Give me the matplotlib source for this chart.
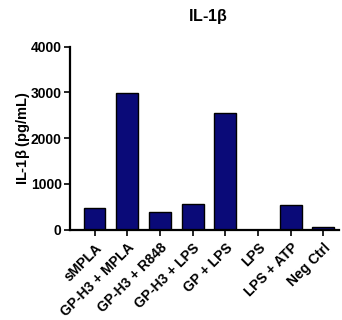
import matplotlib
matplotlib.use("Agg")
import matplotlib.pyplot as plt

categories = ["sMPLA", "GP-H3 + MPLA", "GP-H3 + R848", "GP-H3 + LPS",
              "GP + LPS", "LPS", "LPS + ATP", "Neg Ctrl"]
values = [480, 2985, 390, 560, 2550, 0, 540, 45]
yticks = [0, 1000, 2000, 3000, 4000]

plt.rcParams['font.family'] = ['Liberation Sans', 'DejaVu Sans']

fig = plt.figure(figsize=(3.42, 3.20), dpi=100)
ax = fig.add_axes([70/342, 1-229.5/320, (339-70)/342, (229.5-46.7)/320])

x = list(range(len(categories)))
ax.bar(x, values, width=0.67, color="#0a0a78", edgecolor="black", linewidth=1.0)

ax.set_xlim(-0.75, 7.48)
ax.set_ylim(0, 4000)
ax.set_yticks(yticks)
ax.set_yticklabels([str(v) for v in yticks], fontsize=10, fontweight="bold")
ax.set_xticks(x)
ax.set_xticklabels(categories, rotation=45, ha="right", rotation_mode="anchor",
                   fontsize=10, fontweight="bold")
for s in ["top", "right"]:
    ax.spines[s].set_visible(False)
for s in ["left", "bottom"]:
    ax.spines[s].set_linewidth(1.6)
ax.tick_params(axis="both", width=1.2, length=4, pad=2)
ax.tick_params(axis="x", pad=4)

ax.set_ylabel(r"IL-1$\mathregular{\beta}$ (pg/mL)", fontsize=10.5, fontweight="bold")
ax.yaxis.set_label_coords(-0.14, 0.5)
fig.text(208/342, 1-16/320, r"IL-1$\mathregular{\beta}$", ha="center", va="center",
         fontsize=11.5, fontweight="bold")

fig.savefig("out.png", dpi=100)
